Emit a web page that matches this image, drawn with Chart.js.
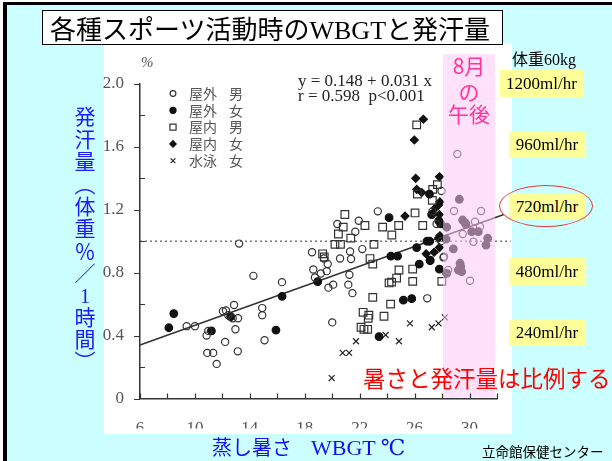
<!DOCTYPE html>
<html lang="ja">
<head>
<meta charset="utf-8">
<title>各種スポーツ活動時のWBGTと発汗量</title>
<script src="https://cdn.jsdelivr.net/npm/chart.js@4.4.1/dist/chart.umd.min.js"></script>
<style>
  body { margin: 0; }
  #page { position: relative; width: 612px; height: 461px; background: #fff; overflow: hidden;
          font-family: "Noto Sans CJK JP", sans-serif; }
  .frame { position: absolute; left: 3px; top: 2px; right: 0; bottom: 0;
           border-left: 4px solid #000; border-top: 3px solid #000; background: #ccffff; }
  .panel { position: absolute; left: 104px; top: 44px; width: 408px; height: 390px; background: #fff; }
  canvas { position: absolute; left: 0; top: 0; }
  .txt { position: absolute; white-space: nowrap; line-height: 1; }
  .serif { font-family: "Liberation Serif", "DejaVu Serif", serif; }
  .title { position: absolute; left: 42px; top: 10px; width: 461px; height: 35px; box-sizing: border-box;
           border: 1px solid #000; background: #fff; font-size: 26px; line-height: 33px; padding-left: 7px; white-space: nowrap; }
  .ybox { position: absolute; background: #ffff99; font-family: "Liberation Serif", serif; font-size: 17px;
          display: flex; align-items: center; justify-content: center; color: #000; }
  .ytitle { position: absolute; left: 74px; top: 106px; writing-mode: vertical-rl; font-size: 21px;
            letter-spacing: 1.4px; line-height: 1; color: #1a1aff; }
  .afternoon { position: absolute; left: 443px; width: 52px; text-align: center; color: #ff3399; font-size: 21px; line-height: 1; }
</style>
</head>
<body>
<div id="page">
  <div class="frame"></div>
  <div class="panel"></div>
  <canvas id="wbgt" width="612" height="461"></canvas>

  <div class="title">各種スポーツ活動時の<span class="serif">WBGT</span>と発汗量</div>

  <div class="txt serif" style="left:141px;top:55px;font-size:15px;font-style:italic;color:#555">%</div>
  <div class="txt serif" style="left:298px;top:72px;font-size:17px;color:#222">y = 0.148 + 0.031 x</div>
  <div class="txt serif" style="left:298px;top:87px;font-size:17px;color:#222">r = 0.598&nbsp;&nbsp;p&lt;0.001</div>

  <div class="afternoon" style="top:55px">8月</div>
  <div class="afternoon" style="top:81px">の</div>
  <div class="afternoon" style="top:103px">午後</div>

  <div class="txt" style="left:512px;top:50px;font-size:16px;color:#000">体重<span class="serif">60kg</span></div>
  <div class="ybox" style="left:500px;top:70px;width:83px;height:27px">1200ml/hr</div>
  <div class="ybox" style="left:509px;top:132px;width:76px;height:26px">960ml/hr</div>
  <div class="ybox" style="left:509px;top:194px;width:76px;height:26px">720ml/hr</div>
  <div class="ybox" style="left:509px;top:258px;width:76px;height:27px">480ml/hr</div>
  <div class="ybox" style="left:509px;top:320px;width:76px;height:26px">240ml/hr</div>
  <div style="position:absolute;left:499px;top:185px;width:94px;height:42px;border:1px solid #e8393b;border-radius:50%;box-sizing:border-box"></div>

  <div class="ytitle">発汗量（体重％／<span class="serif" style="text-combine-upright:all">1</span>時間）</div>

  <div class="txt" style="left:363px;top:366px;font-size:22.5px;color:#ff0000">暑さと発汗量は比例する</div>
  <div class="txt" style="left:212px;top:437px;font-size:20px;color:#1111ee">蒸し暑さ<span class="serif" style="font-size:22px;margin-left:19px">WBGT ℃</span></div>
  <div class="txt" style="left:482px;top:445px;font-size:13.5px;color:#000">立命館保健センター</div>
</div>

<script>
// WBGT (deg C) vs sweat rate (% body weight per hour)
const outdoorMale = [
  [9.4,0.46],[10.0,0.46],[10.85,0.40],[10.97,0.43],[10.9,0.29],[11.33,0.29],[11.58,0.22],
  [12.04,0.555],[12.26,0.56],[12.43,0.53],[12.75,0.51],[12.85,0.595],[13.14,0.51],[13.22,0.985],
  [12.95,0.44],[12.2,0.36],[13.12,0.30],[14.26,0.78],[14.9,0.575],[14.9,0.53],[15.07,0.37],
  [16.34,0.74],[18.53,0.93],[18.62,0.82],[18.74,0.77],[19.17,0.795],[19.6,0.81],[19.67,0.855],
  [19.4,0.89],[19.72,0.705],[20.07,0.724],[20.37,1.11],[20.57,0.89],[21.3,0.935],[21.37,0.887],
  [21.25,0.787],[21.17,0.724],[21.47,0.67],[21.68,1.06],[21.93,1.13],[22.19,0.95],[23.32,1.19],
  [20.0,0.484],[26.92,0.637],[27.93,1.0],[27.3,1.19],[27.96,1.32],[27.6,1.11],[28.1,0.897],
  [29.11,1.555],[28.87,1.192],[30.84,1.192],[30.4,1.124],[29.5,1.046],[30.76,1.093],[30.28,0.997],
  [28.14,0.902],[28.45,0.817],[30.03,0.749]
];
const outdoorFemale = [
  [8.1,0.45],[8.46,0.54],[11.2,0.43],[12.6,0.52],[15.9,0.435],[16.35,0.65],[18.94,0.743],
  [24.14,1.15],[24.27,0.905],[24.76,0.905],[25.18,0.625],[25.79,0.635],[26.34,0.855],[27.13,0.876],
  [27.8,0.823],[23.41,0.394],[27.08,1.30],[27.24,1.17],[27.76,1.13],[27.9,1.11],[26.15,0.96],
  [27.13,0.88],[26.9,1.0],[27.1,1.0],
  [29.26,1.267],[29.5,1.135],[29.67,1.118],[29.74,1.108],[30.16,1.061],[30.64,1.061],[31.32,1.019],
  [31.2,0.976],[28.82,0.951],[28.29,1.014],[29.31,0.86],[29.36,0.838],[29.18,0.817],[29.43,0.806],
  [28.34,0.796],[28.34,1.089]
];
const indoorMale = [
  [19.3,0.92],[19.42,0.90],[20.2,0.98],[20.6,0.98],[20.45,1.046],[21.35,1.02],[20.92,1.17],[20.8,1.09],
  [22.38,1.10],[23.67,1.09],[24.84,1.10],[24.34,1.04],[23.04,0.98],[22.75,0.89],[22.95,0.855],[24.86,0.817],
  [24.69,0.766],[24.14,0.735],[24.32,0.74],[25.86,0.823],[25.86,0.745],[27.98,0.745],[22.95,0.643],[24.25,0.60],
  [22.25,0.548],[22.67,0.53],[22.62,0.51],[23.77,0.523],[22.1,0.453],[22.31,0.44],[22.58,0.44],
  [26.15,1.74],[26.2,1.30],[27.32,1.33],[27.66,1.36],[27.29,1.26],[26.03,1.18],[26.59,1.10]
];
const indoorFemale = [
  [26.08,1.40],[26.64,1.776],[25.98,1.644],[27.81,1.41],[26.15,1.33],[26.52,1.31],[27.74,1.23],
  [27.84,1.25],[27.49,1.21],[25.3,1.16],[27.84,1.035],[26.84,0.92],[27.42,0.93],[27.81,0.96],
  [27.74,1.02],[27.8,1.17]
];
const swimFemale = [
  [23.89,0.404],[25.66,0.478],[27.25,0.453],[27.74,0.478],[28.2,0.516],[21.73,0.364],[24.86,0.364],
  [20.76,0.29],[21.23,0.29],[19.96,0.13]
];
const seriesPlace = ['屋外', '屋外', '屋内', '屋内', '水泳'];
const seriesSex = ['男', '女', '男', '女', '女'];

const fitLine = [[6, 0.34], [32.5, 1.17]];
const refLine = [[6, 1.0], [33.0, 1.0]];
const afternoonBand = [28.07, 31.86];   // 8月の午後

const xTickLabels = ['6', '10', '14', '18', '22', '26', '30'];
const yTickLabels = ['0', '0.4', '0.8', '1.2', '1.6', '2.0'];

const pts = arr => arr.map(([x, y]) => ({ x, y }));

const markerSeries = [
  { data: outdoorMale, pointStyle: 'circle', pointRadius: 3.6, borderColor: '#333', backgroundColor: 'rgba(0,0,0,0)' },
  { data: outdoorFemale, pointStyle: 'circle', pointRadius: 3.8, borderColor: '#111', backgroundColor: '#111' },
  { data: indoorMale, pointStyle: 'rect', pointRadius: 5.4, borderColor: '#333', backgroundColor: 'rgba(0,0,0,0)' },
  { data: indoorFemale, pointStyle: 'rectRot', pointRadius: 4.0, borderColor: '#111', backgroundColor: '#111' },
  { data: swimFemale, pointStyle: 'crossRot', pointRadius: 4.2, borderColor: '#222', backgroundColor: '#222' }
];

const datasets = markerSeries.map((s, i) => ({
  label: seriesPlace[i] + seriesSex[i],
  data: pts(s.data),
  pointStyle: s.pointStyle,
  pointRadius: s.pointRadius,
  borderColor: s.borderColor,
  backgroundColor: s.backgroundColor,
  borderWidth: 1.2,
  showLine: false,
  clip: false
}));

datasets.push({
  label: 'fit', data: pts(fitLine), showLine: true, pointRadius: 0,
  borderColor: '#333', borderWidth: 1.5, clip: false
});
datasets.push({
  label: 'ref', data: pts(refLine), showLine: true, pointRadius: 0,
  borderColor: '#777', borderWidth: 1.3, borderDash: [2, 3], clip: false
});

// pink overlay for August afternoons, drawn over the marks
const bandPlugin = {
  id: 'afternoonBand',
  afterDatasetsDraw(chart) {
    const { ctx, scales: { x, y } } = chart;
    const left = x.getPixelForValue(afternoonBand[0]);
    const right = x.getPixelForValue(afternoonBand[1]);
    const top = y.getPixelForValue(2.19);
    const bottom = y.getPixelForValue(0) - 1;
    ctx.save();
    ctx.fillStyle = 'rgba(255,200,245,0.55)';
    ctx.fillRect(left, top, right - left, bottom - top);
    ctx.restore();
  }
};

// inside ticks + in-plot legend
const decoPlugin = {
  id: 'deco',
  afterDraw(chart) {
    const { ctx, scales: { x, y } } = chart;
    ctx.save();
    ctx.strokeStyle = '#333';
    ctx.lineWidth = 1.2;
    ctx.beginPath();
    x.ticks.forEach(t => {
      const px = Math.round(x.getPixelForValue(t.value)) + 0.5;
      ctx.moveTo(px, y.bottom);
      ctx.lineTo(px, y.bottom - 5);
    });
    y.ticks.forEach(t => {
      const py = Math.round(y.getPixelForValue(t.value)) + 0.5;
      if (t.label) {
        ctx.moveTo(x.left - 6, py);
        ctx.lineTo(x.left, py);
      } else {
        ctx.moveTo(x.left, py);
        ctx.lineTo(x.left + 5, py);
      }
    });
    ctx.stroke();

    markerSeries.forEach((s, i) => {
      const ly = 93.5 + i * 16.8;
      ctx.fillStyle = s.backgroundColor;
      ctx.strokeStyle = s.borderColor;
      ctx.lineWidth = 1.2;
      Chart.helpers.drawPoint(ctx, {
        pointStyle: s.pointStyle, radius: s.pointRadius * 0.8, borderWidth: 1.2, rotation: 0
      }, 173, ly);
      ctx.fillStyle = '#555';
      ctx.font = '14px "Noto Sans CJK JP"';
      ctx.textBaseline = 'middle';
      ctx.fillText(seriesPlace[i], 189, ly);
      ctx.fillText(seriesSex[i], 229, ly);
    });
    ctx.restore();
  }
};

const labelFor = (list, v) => list.find(l => Math.abs(parseFloat(l) - v) < 1e-6) || '';

new Chart(document.getElementById('wbgt'), {
  type: 'scatter',
  data: { datasets },
  plugins: [bandPlugin, decoPlugin],
  options: {
    responsive: false,
    animation: false,
    events: [],
    layout: { padding: { left: 100, right: 115, top: 84, bottom: 32.5 } },
    plugins: { legend: { display: false }, tooltip: { enabled: false } },
    scales: {
      x: {
        type: 'linear', min: 6, max: 32,
        afterFit: s => { s.height = 30; },
        grid: { display: false },
        border: { display: true, color: '#333', width: 1.5 },
        ticks: {
          stepSize: 2, includeBounds: false, padding: 12, maxRotation: 0, autoSkip: false,
          color: '#555', font: { family: '"Liberation Serif", serif', size: 17 },
          callback: v => labelFor(xTickLabels, v)
        }
      },
      y: {
        type: 'linear', min: 0, max: 2.0,
        afterFit: s => { s.width = 40; },
        grid: { display: false },
        border: { display: true, color: '#333', width: 1.5 },
        ticks: {
          stepSize: 0.2, padding: 8, autoSkip: false,
          color: '#555', font: { family: '"Liberation Serif", serif', size: 17 },
          callback: v => labelFor(yTickLabels, v)
        }
      }
    }
  }
});
</script>
</body>
</html>
